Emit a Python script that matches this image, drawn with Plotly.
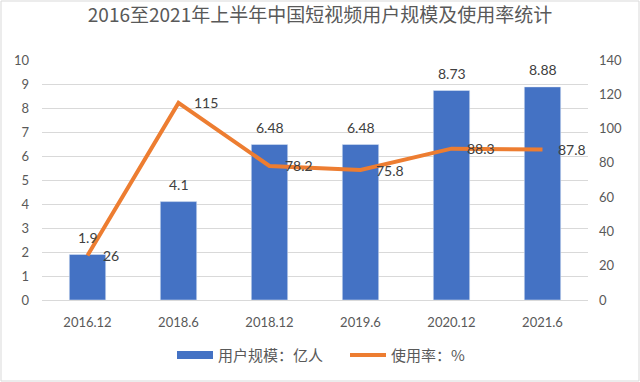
import plotly.graph_objects as go

categories = ["2016.12", "2018.6", "2018.12", "2019.6", "2020.12", "2021.6"]
users = [1.9, 4.1, 6.48, 6.48, 8.73, 8.88]
usage_rate = [26, 115, 78.2, 75.8, 88.3, 87.8]
user_labels = ["1.9", "4.1", "6.48", "6.48", "8.73", "8.88"]
rate_labels = ["26", "115", "78.2", "75.8", "88.3", "87.8"]

font_family = "Lato, 'Noto Sans CJK SC', sans-serif"
cjk = "'Noto Sans CJK SC', Lato, sans-serif"
bar_color = "#4472C4"
line_color = "#ED7D31"

fig = go.Figure()
fig.add_trace(go.Bar(
    x=categories, y=users, name="用户规模：亿人",
    marker=dict(color=bar_color), width=0.4, showlegend=False,
))
# legend-only entry drawn as a wide flat bar swatch
fig.add_trace(go.Scatter(
    x=[None], y=[None], name="用户规模：亿人", mode="lines",
    line=dict(color=bar_color, width=8), showlegend=True,
))
fig.add_trace(go.Scatter(
    x=categories, y=usage_rate, name="使用率：%", yaxis="y2",
    mode="lines", line=dict(color=line_color, width=4),
))

annotations = []
# on a category axis, annotation x is the category index
for i, (v, t) in enumerate(zip(users, user_labels)):
    annotations.append(dict(x=i, y=v, xref="x", yref="y", text=t, showarrow=False,
                            xanchor="center", yanchor="middle", yshift=17,
                            font=dict(size=14, color="#404040", family=font_family)))
for i, (v, t) in enumerate(zip(usage_rate, rate_labels)):
    annotations.append(dict(x=i, y=v, xref="x", yref="y2", text=t, showarrow=False,
                            xanchor="left", yanchor="middle", xshift=13,
                            font=dict(size=14, color="#404040", family=font_family)))

fig.update_layout(
    width=640, height=382,
    margin=dict(l=42, r=52, t=60, b=82, autoexpand=False),
    paper_bgcolor="white", plot_bgcolor="white",
    title=dict(text="2016至2021年上半年中国短视频用户规模及使用率统计",
               x=0.5, xanchor="center", y=0.96, yanchor="middle",
               font=dict(size=19, color="#595959", family=cjk)),
    xaxis=dict(type="category", categoryorder="array", categoryarray=categories,
               range=[-0.5, len(categories) - 0.5],
               showgrid=False, showline=True, linecolor="#D9D9D9",
               tickfont=dict(size=13, color="#595959", family=font_family),
               ticks="", ticklabelstandoff=10),
    yaxis=dict(range=[0, 10], dtick=1, gridcolor="#D9D9D9", zeroline=False,
               tickfont=dict(size=13, color="#595959", family=font_family),
               ticklabelstandoff=12),
    yaxis2=dict(range=[0, 140], dtick=20, overlaying="y", side="right",
                showgrid=False, zeroline=False,
                tickfont=dict(size=13, color="#595959", family=font_family),
                ticklabelstandoff=10),
    legend=dict(orientation="h", x=(172 - 42) / 546, xanchor="left", y=-0.23, yanchor="middle",
                font=dict(size=15, color="#595959", family=cjk),
                traceorder="normal", itemwidth=36, entrywidth=122),
    annotations=annotations,
    showlegend=True,
    shapes=[dict(type="rect", xref="paper", yref="paper",
                 x0=-41/546, x1=1+51/546, y0=-81/240, y1=1+59/240,
                 line=dict(color="#D9D9D9", width=1))],
)

fig.write_html("out.html", config={"displayModeBar": False},
               post_script="document.body.style.margin='0';document.body.style.overflow='hidden';")
